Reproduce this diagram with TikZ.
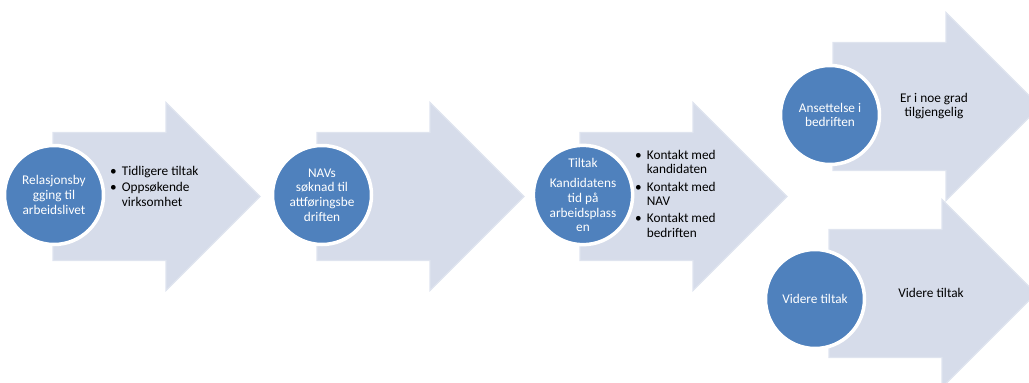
\documentclass[tikz,border=0pt]{standalone}
\usepackage{fontspec}
\setmainfont{Carlito}
\usetikzlibrary{positioning}

\definecolor{arrowfill}{RGB}{214,220,234}
\definecolor{arrowedge}{RGB}{223,228,239}
\definecolor{phasefill}{RGB}{79,129,189}

\tikzset{
  stage/.pic={
    \filldraw[fill=arrowfill,draw=arrowedge,line width=1.2pt]
      (0,-64) -- (113,-64) -- (113,-94) -- (207,0)
      -- (113,94) -- (113,64) -- (0,64) -- cycle;
  },
  phase/.style={circle,fill=phasefill,draw=white,line width=3.5pt,
    minimum size=99pt,inner sep=0pt,text=white,align=center,
    font=\fontsize{13.3}{14.6}\selectfont},
  stagetext/.style={align=left,inner sep=0pt,
    font=\fontsize{13.3}{14.4}\selectfont}
}

\begin{document}
\begin{tikzpicture}[x=1pt,y=-1pt]
  \useasboundingbox (0,0) rectangle (1029,383);
  \clip (0,0) rectangle (1029,383);

  % arrows
  \foreach \x/\y in {53/196.5, 317/196.5, 580/196.5, 833/106.5, 829/293.5}
    \pic at (\x,\y) {stage};

  % circles
  \node[phase] (RelasjonC) at (54,195)  {Relasjonsby\\gging til\\arbeidslivet};
  \node[phase] (NavC)      at (322,195) {NAVs\\søknad til\\attføringsbe\\driften};
  \node[phase] (TiltakC)   at (583,195) {Tiltak\\[6pt]Kandidatens\\tid på\\arbeidsplass\\en};
  \node[phase] (AnsettC)   at (830,115) {Ansettelse i\\bedriften};
  \node[phase] (VidereC)   at (815,299) {Videre tiltak};

  % texts in the arrows
  \node[stagetext,anchor=west] (RelasjonT) at (110,188)
    {\begin{tabular}{@{}l@{\hspace{5pt}}l@{}}
      \textbullet & Tidligere tiltak\\[2pt]
      \textbullet & Oppsøkende\\
                  & virksomhet
    \end{tabular}};
  \node[stagetext,anchor=west] (TiltakT) at (635,195.5)
    {\begin{tabular}{@{}l@{\hspace{5pt}}l@{}}
      \textbullet & Kontakt med\\
                  & kandidaten\\[3pt]
      \textbullet & Kontakt med\\
                  & NAV\\[3pt]
      \textbullet & Kontakt med\\
                  & bedriften
    \end{tabular}};
  \node[stagetext,align=center] (AnsettT) at (934,106) {Er i noe grad\\tilgjengelig};
  \node[stagetext] (VidereT) at (931,293) {Videre tiltak};
\end{tikzpicture}
\end{document}
